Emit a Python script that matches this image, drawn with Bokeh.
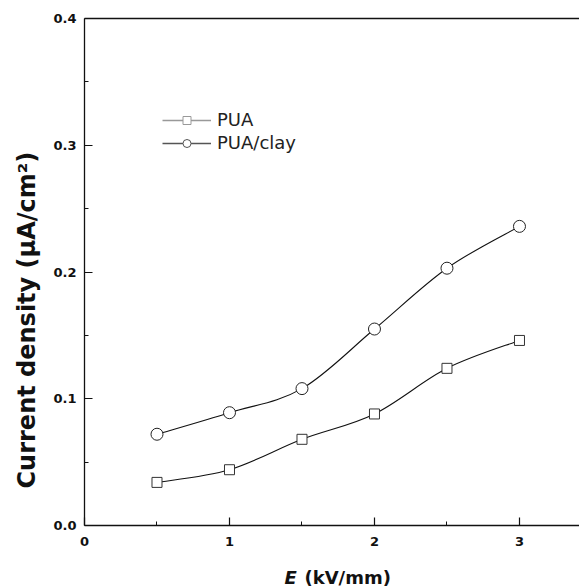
import numpy as np
from bokeh.plotting import figure
from bokeh.layouts import column
from bokeh.models import (FixedTicker, Range1d, LinearAxis, Legend, LegendItem,
                          Label, Title, CustomJSTickFormatter)
from bokeh.embed import file_html
from bokeh.resources import INLINE

# ---- data ----
field = [0.5, 1.0, 1.5, 2.0, 2.5, 3.0]
pua = [0.034, 0.044, 0.068, 0.088, 0.124, 0.146]
pua_clay = [0.072, 0.089, 0.108, 0.155, 0.203, 0.236]
x_ticks = [0, 1, 2, 3]
x_minor = [0.5, 1.5, 2.5]
y_ticks = [0.0, 0.1, 0.2, 0.3, 0.4]
y_minor = [0.05, 0.15, 0.25, 0.35]

FONT = "DejaVu Sans"

p = figure(width=579, height=549, output_backend="svg", toolbar_location=None,
           x_range=Range1d(0, 3.414), y_range=Range1d(0, 0.4),
           min_border_left=84, min_border_top=18, min_border_bottom=24,
           min_border_right=0)
p.outline_line_color = None
p.grid.visible = False
p.background_fill_color = "white"
p.border_fill_color = "white"

def curve_segments(xs, ys):
    xs = np.asarray(xs, float); ys = np.asarray(ys, float)
    n = len(xs)
    px = np.concatenate([[xs[0]], xs, [xs[-1]]])
    py = np.concatenate([[ys[0]], ys, [ys[-1]]])
    out = {k: [] for k in ("x0", "y0", "x1", "y1", "cx0", "cy0", "cx1", "cy1")}
    for i in range(n - 1):
        a, b, c, d = i, i + 1, i + 2, i + 3
        out["x0"].append(px[b]); out["y0"].append(py[b])
        out["x1"].append(px[c]); out["y1"].append(py[c])
        out["cx0"].append(px[b] + (px[c] - px[a]) / 6)
        out["cy0"].append(py[b] + (py[c] - py[a]) / 6)
        out["cx1"].append(px[c] - (px[d] - px[b]) / 6)
        out["cy1"].append(py[c] - (py[d] - py[b]) / 6)
    return out

for ys in (pua, pua_clay):
    seg = curve_segments(field, ys)
    p.bezier(**seg, line_color="#111111", line_width=1.1)

p.scatter(field, pua, marker="square", size=10, fill_color="white",
          line_color="#333333", line_width=1)
p.scatter(field, pua_clay, marker="circle", size=12, fill_color="white",
          line_color="#222222", line_width=1)

leg_l1 = p.line([np.nan], [np.nan], line_color="#999999", line_width=1.3)
leg_m1 = p.scatter([np.nan], [np.nan], marker="square", size=10, fill_color="white",
                   line_color="#999999", line_width=1)
leg_l2 = p.line([np.nan], [np.nan], line_color="#555555", line_width=1.6)
leg_m2 = p.scatter([np.nan], [np.nan], marker="circle", size=12, fill_color="white",
                   line_color="#555555", line_width=1)

legend = Legend(items=[LegendItem(label="PUA", renderers=[leg_l1, leg_m1]),
                       LegendItem(label="PUA/clay", renderers=[leg_l2, leg_m2])],
                location=(78, 372), glyph_width=49, glyph_height=20, spacing=2,
                padding=0, margin=0, label_standoff=6, border_line_color=None,
                background_fill_alpha=0, label_text_font=FONT,
                label_text_font_size="18px", label_text_color="#222222")
p.add_layout(legend, "center")

for ax in (p.xaxis[0], p.yaxis[0]):
    ax.major_tick_in = 8
    ax.major_tick_out = 0
    ax.minor_tick_in = 4
    ax.minor_tick_out = 0
    ax.axis_line_width = 1.3
    ax.major_tick_line_width = 1.2
    ax.minor_tick_line_width = 1
    ax.axis_line_color = "#111111"
    ax.major_tick_line_color = "#111111"
    ax.minor_tick_line_color = "#111111"
    ax.major_label_text_font = FONT
    ax.major_label_text_font_style = "bold"
    ax.major_label_text_font_size = "13px"
    ax.major_label_text_color = "#111111"

p.xaxis[0].ticker = FixedTicker(ticks=x_ticks, minor_ticks=x_minor)
p.yaxis[0].ticker = FixedTicker(ticks=y_ticks, minor_ticks=y_minor)
p.yaxis[0].formatter = CustomJSTickFormatter(code="return tick.toFixed(1);")
p.xaxis[0].major_label_standoff = 11
p.yaxis[0].major_label_standoff = 8

top = LinearAxis(ticker=FixedTicker(ticks=[]), major_label_text_font_size="0px",
                 major_tick_in=0, major_tick_out=0, minor_tick_in=0, minor_tick_out=0,
                 axis_line_color="#111111", axis_line_width=1.3)
p.add_layout(top, "above")

ytitle = Title(text="Current density (\u03bcA/cm\u00b2)", align="left", offset=37,
               text_font=FONT, text_font_style="bold", text_font_size="24px",
               text_color="#111111", standoff=20)
p.add_layout(ytitle, "left")

# x-axis title strip (shares the x scale of the main plot)
s = figure(width=579, height=38, output_backend="svg", toolbar_location=None,
           x_range=p.x_range, y_range=Range1d(0, 1), x_axis_type=None, y_axis_type=None,
           min_border_left=84, min_border_right=0, min_border_top=0, min_border_bottom=0)
s.outline_line_color = None
s.grid.visible = False
s.border_fill_color = "white"

lab_e = Label(x=1.379, y=10, x_units="data", y_units="screen", text="E",
              text_font=FONT, text_font_style="bold italic", text_font_size="18px",
              text_baseline="alphabetic", text_color="#111111")
lab_u = Label(x=1.517, y=10, x_units="data", y_units="screen", text="(kV/mm)",
              text_font=FONT, text_font_style="bold", text_font_size="18px",
              text_baseline="alphabetic", text_color="#111111")
s.add_layout(lab_e)
s.add_layout(lab_u)

layout = column(p, s, spacing=0)
open("out.html", "w").write(file_html(layout, INLINE))
